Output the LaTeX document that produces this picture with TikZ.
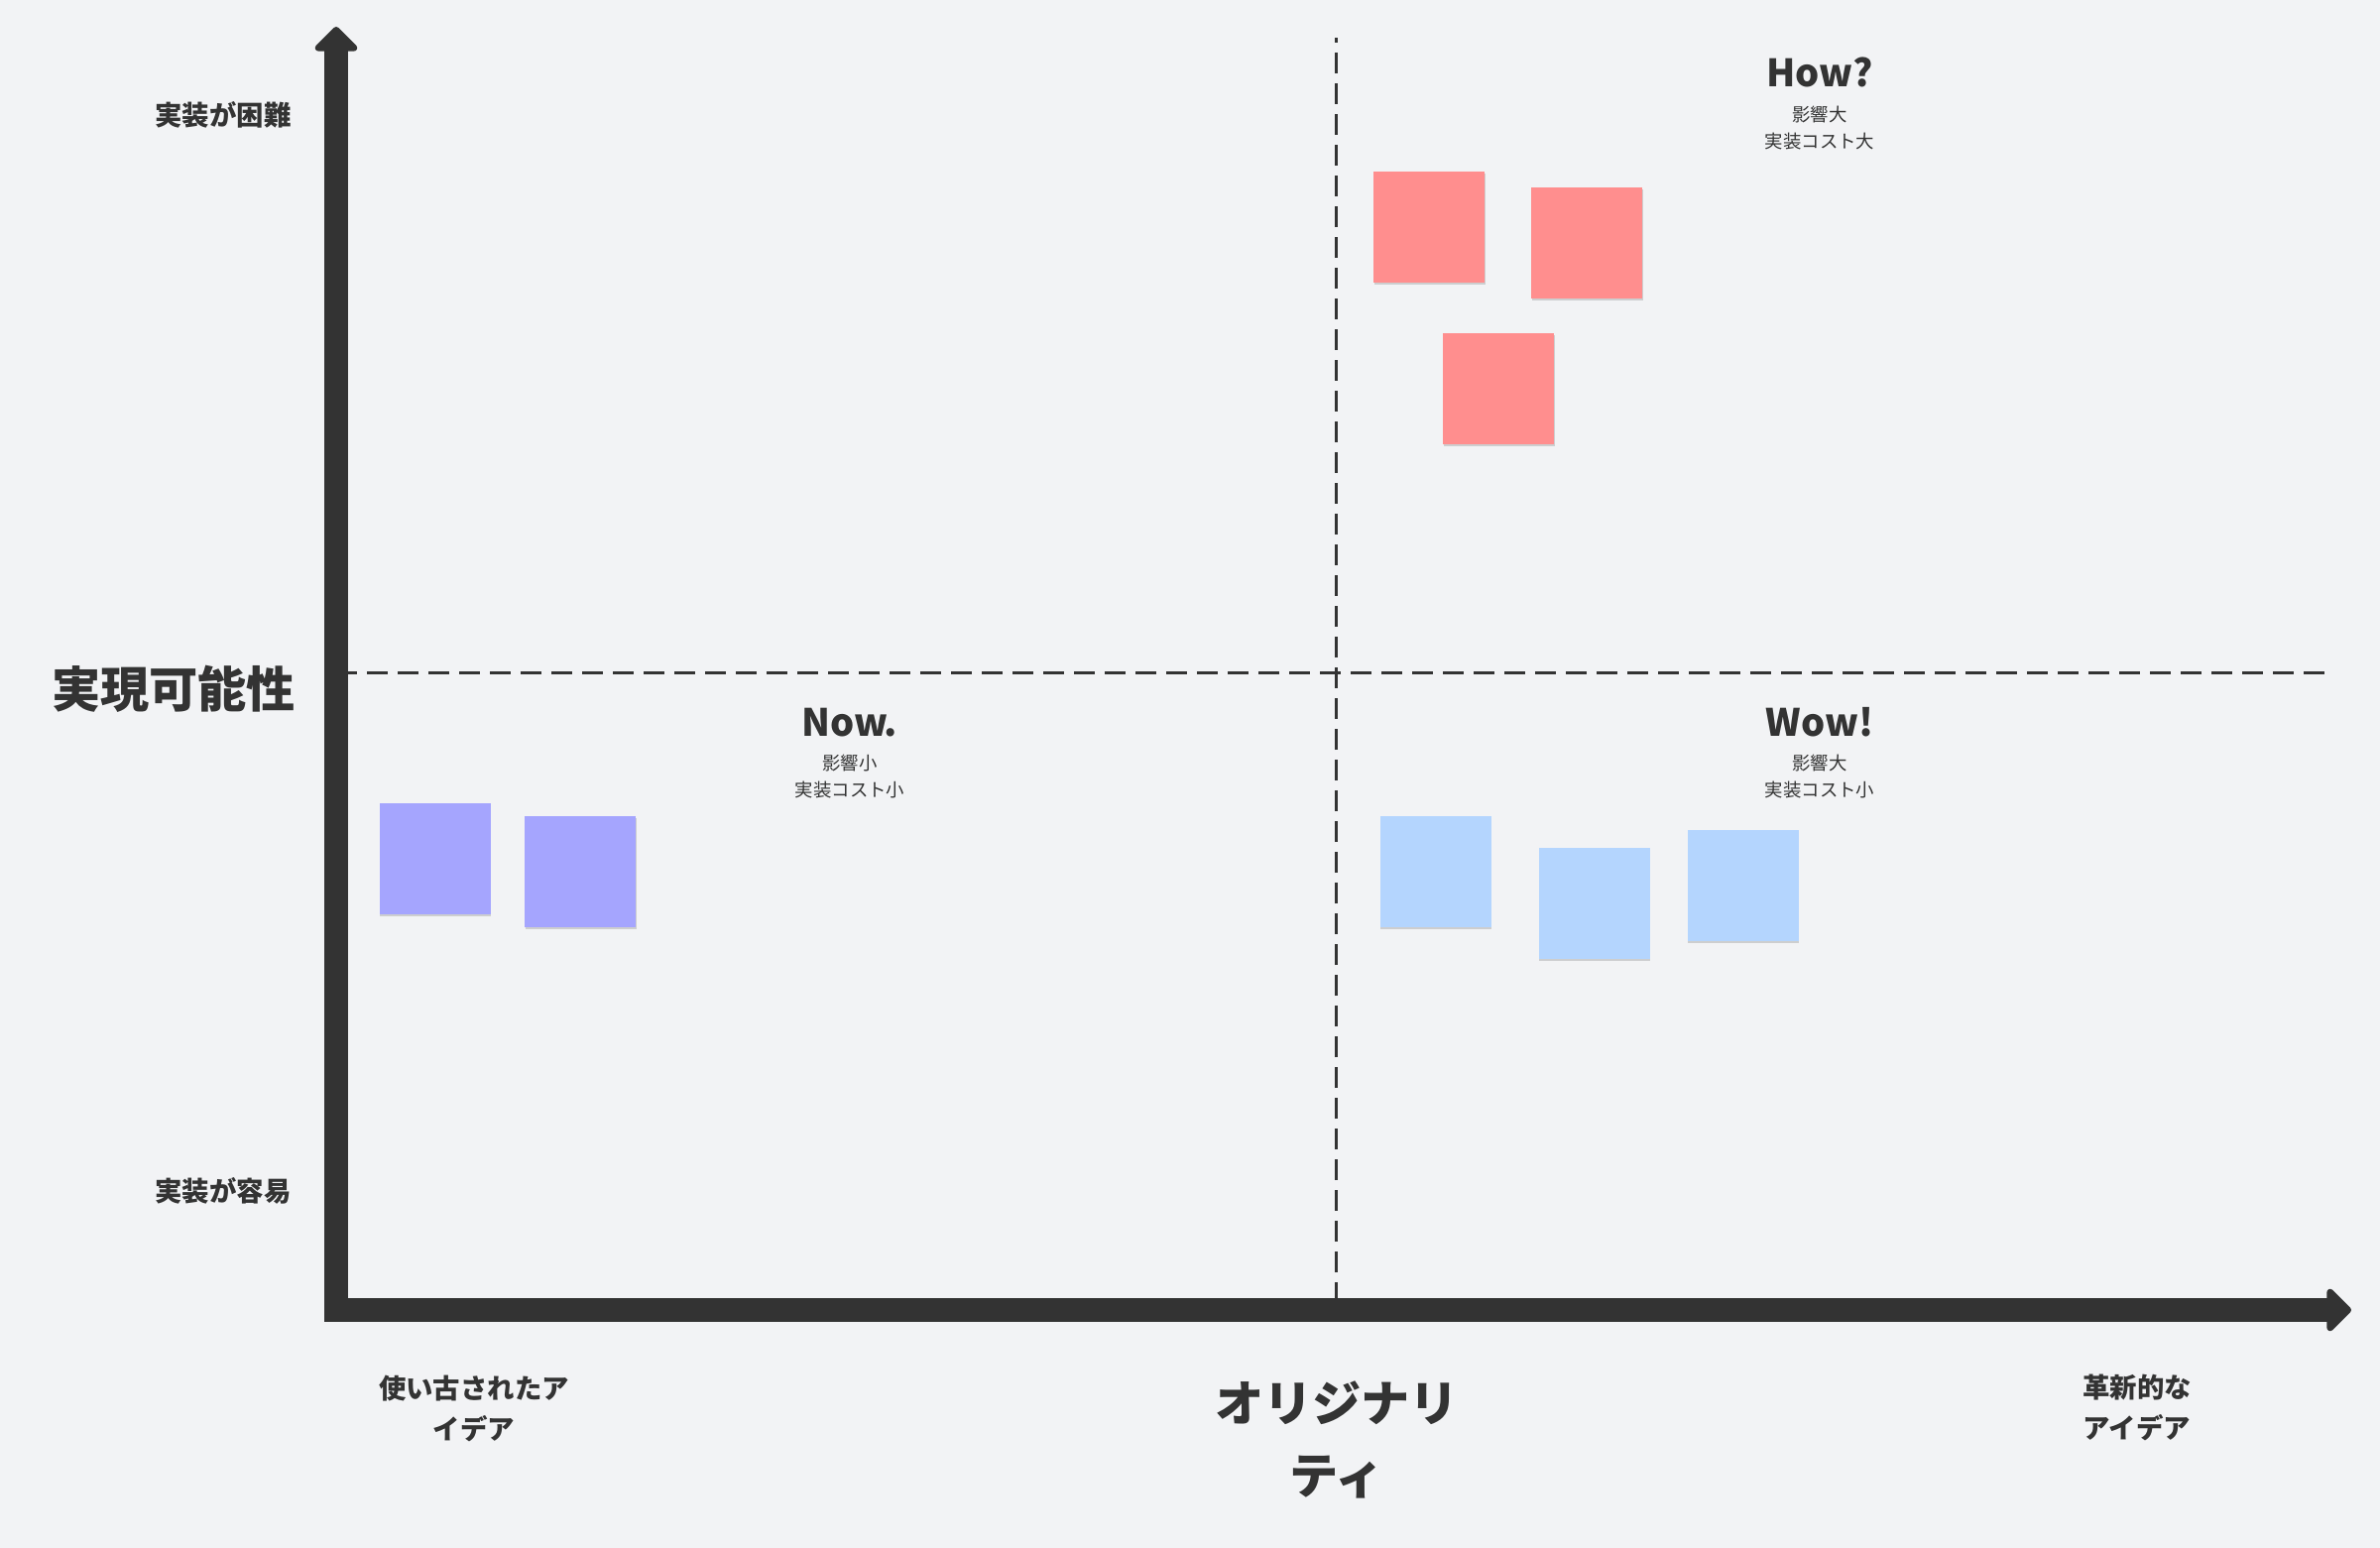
\documentclass[tikz,border=0pt]{standalone}
\usepackage{fontspec}
\setmainfont{Noto Sans CJK JP}
\usetikzlibrary{arrows.meta,shadows}
\definecolor{bgc}{HTML}{F2F3F5}
\definecolor{ink}{HTML}{333333}
\definecolor{notered}{HTML}{FF8E8E}
\definecolor{notepurple}{HTML}{A5A5FE}
\definecolor{noteblue}{HTML}{B4D5FE}
\begin{document}
\begin{tikzpicture}[x=0.5pt,y=-0.5pt,
    axis/.style={ink,line width=12pt,{Triangle[length=13pt,width=25pt,round]}-{Triangle[length=13pt,width=25pt,round]}},
    divider/.style={ink,line width=1.5pt,dash pattern=on 10.5pt off 5pt},
    note/.style={fill=#1,inner sep=0pt,minimum size=56pt,
        drop shadow={shadow xshift=0.4pt,shadow yshift=-1.2pt,opacity=.22,fill=black!70}},
    axislabel/.style={text=ink,font=\bfseries\fontsize{13.7}{20.5}\selectfont,align=center},
    biglabel/.style={text=ink,font=\bfseries\fontsize{24.6}{36.5}\selectfont,align=center},
    quadtitle/.style={text=ink,anchor=base,font=\bfseries\fontsize{19}{22}\selectfont},
    quadsub/.style={text=ink,font=\fontsize{9.2}{13.5}\selectfont,align=center}]
\fill[bgc] (0,0) rectangle (2400,1561);
\useasboundingbox (0,0) rectangle (2400,1561);
% axes and dividers
\coordinate (ytip) at (339,27);
\coordinate (origin) at (339,1321);
\coordinate (xtip) at (2371,1321);
\coordinate (vtop) at (1347,38);
\coordinate (vbot) at (1347,1314);
\coordinate (hleft) at (339,679);
\coordinate (hright) at (2345,679);
\draw[divider] (vbot) -- (vtop);
\draw[divider] (hleft) -- (hright);
\draw[axis] (ytip) -- (origin) -- (xtip);
% axis labels
\node[biglabel] (feas) at (175,695) {実現可能性};
\node[axislabel] (hard) at (225,116) {実装が困難};
\node[axislabel] (easy) at (225,1201) {実装が容易};
\node[biglabel] (orig) at (1348,1452) {オリジナリ\\ティ};
\node[axislabel] (used) at (478,1420) {使い古されたア\\イデア};
\node[axislabel] (novel) at (2155,1419) {革新的な\\アイデア};
% quadrants
\node[quadtitle] (how) at (1835,88) {How?};
\node[quadsub] (howsub) at (1835,129) {影響大\\実装コスト大};
\node[quadtitle] (now) at (857,743) {Now.};
\node[quadsub] (nowsub) at (857,783) {影響小\\実装コスト小};
\node[quadtitle] (wow) at (1835,743) {Wow!};
\node[quadsub] (wowsub) at (1835,783) {影響大\\実装コスト小};
% sticky notes
\node[note=notered] (r1) at (1441,229) {};
\node[note=notered] (r2) at (1600,245) {};
\node[note=notered] (r3) at (1511,392) {};
\node[note=notepurple] (p1) at (438.5,866) {};
\node[note=notepurple] (p2) at (585,879) {};
\node[note=noteblue] (b1) at (1447.5,879) {};
\node[note=noteblue] (b2) at (1607.5,911) {};
\node[note=noteblue] (b3) at (1757.5,893) {};
\end{tikzpicture}
\end{document}
